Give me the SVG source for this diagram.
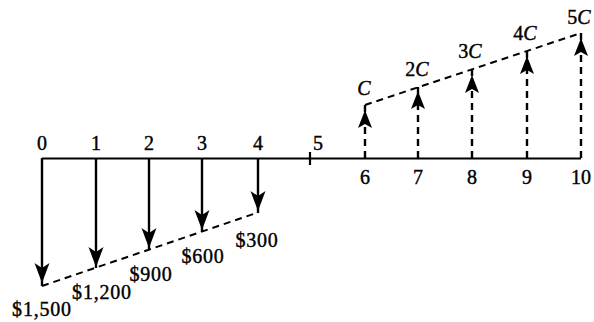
<svg xmlns="http://www.w3.org/2000/svg" xmlns:xlink="http://www.w3.org/1999/xlink" width="594" height="322" viewBox="0 0 594 322">
<style>
.t{font-family:"Liberation Serif","Times New Roman",serif;font-size:20px;fill:#000;stroke:#000;stroke-width:0.4}
.m{letter-spacing:0.8px}
.c{font-style:italic}
.ax{stroke:#000;stroke-width:2.2;fill:none}
.sh{stroke:#000;stroke-width:2.4;fill:none}
.dsh{stroke:#000;stroke-width:2.4;fill:none;stroke-dasharray:7 5}
.dl{stroke:#000;stroke-width:2;fill:none;stroke-dasharray:7 5}
</style>
<defs>
<path id="hd" d="M0,0 L-7.5,-20 L0,-15 L7.5,-20 Z" fill="#000"/>
<path id="hu" d="M0,0 L-7,18 L0,14 L7,18 Z" fill="#000"/>
</defs>
<rect width="594" height="322" fill="#fff"/>
<g id="axis">
<line class="ax" x1="42" y1="158.5" x2="581" y2="158.5"/>
<line class="ax" x1="310" y1="152" x2="310" y2="165"/>
</g>
<g id="labels-top">
<text class="t" x="42" y="150" text-anchor="middle">0</text>
<text class="t" x="96" y="150" text-anchor="middle">1</text>
<text class="t" x="149" y="150" text-anchor="middle">2</text>
<text class="t" x="202" y="150" text-anchor="middle">3</text>
<text class="t" x="258" y="150" text-anchor="middle">4</text>
<text class="t" x="318" y="150" text-anchor="middle">5</text>
<text class="t" x="365" y="184" text-anchor="middle">6</text>
<text class="t" x="418" y="184" text-anchor="middle">7</text>
<text class="t" x="472" y="184" text-anchor="middle">8</text>
<text class="t" x="527" y="184" text-anchor="middle">9</text>
<text class="t" x="581" y="184" text-anchor="middle">10</text>
</g>
<g id="connectors">
<line class="dl" x1="42" y1="286" x2="258" y2="212.5"/>
<line class="dl" x1="365" y1="105" x2="581" y2="33"/>
</g>
<g id="cost0"><line class="sh" x1="42" y1="158" x2="42" y2="286"/><use xlink:href="#hd" x="42" y="283"/><text class="t m" x="42" y="316" text-anchor="middle">$1,500</text></g>
<g id="cost1"><line class="sh" x1="96" y1="158" x2="96" y2="268"/><use xlink:href="#hd" x="96" y="267"/><text class="t m" x="102" y="299" text-anchor="middle">$1,200</text></g>
<g id="cost2"><line class="sh" x1="149" y1="158" x2="149" y2="250"/><use xlink:href="#hd" x="149" y="248"/><text class="t m" x="151" y="281" text-anchor="middle">$900</text></g>
<g id="cost3"><line class="sh" x1="202" y1="158" x2="202" y2="232"/><use xlink:href="#hd" x="202" y="230"/><text class="t m" x="203" y="263" text-anchor="middle">$600</text></g>
<g id="cost4"><line class="sh" x1="258" y1="158" x2="258" y2="213"/><use xlink:href="#hd" x="258" y="211"/><text class="t m" x="257" y="247" text-anchor="middle">$300</text></g>
<g id="rev6"><line class="dsh" x1="365" y1="158" x2="365" y2="125"/><line class="sh" x1="365" y1="112" x2="365" y2="105"/><use xlink:href="#hu" x="365" y="110"/><text class="t c" x="364" y="95" text-anchor="middle">C</text></g>
<g id="rev7"><line class="dsh" x1="418" y1="158" x2="418" y2="105"/><line class="sh" x1="418" y1="94" x2="418" y2="87"/><use xlink:href="#hu" x="418" y="91"/><text class="t" x="417" y="76" text-anchor="middle">2<tspan class="c">C</tspan></text></g>
<g id="rev8"><line class="dsh" x1="472" y1="158" x2="472" y2="90"/><line class="sh" x1="472" y1="76" x2="472" y2="69"/><use xlink:href="#hu" x="472" y="75"/><text class="t" x="470" y="58" text-anchor="middle">3<tspan class="c">C</tspan></text></g>
<g id="rev9"><line class="dsh" x1="527" y1="158" x2="527" y2="70"/><line class="sh" x1="527" y1="58" x2="527" y2="51"/><use xlink:href="#hu" x="527" y="56"/><text class="t" x="525" y="40" text-anchor="middle">4<tspan class="c">C</tspan></text></g>
<g id="rev10"><line class="dsh" x1="581" y1="158" x2="581" y2="52"/><line class="sh" x1="581" y1="40" x2="581" y2="33"/><use xlink:href="#hu" x="581" y="38"/><text class="t" x="579" y="24" text-anchor="middle">5<tspan class="c">C</tspan></text></g>
</svg>
